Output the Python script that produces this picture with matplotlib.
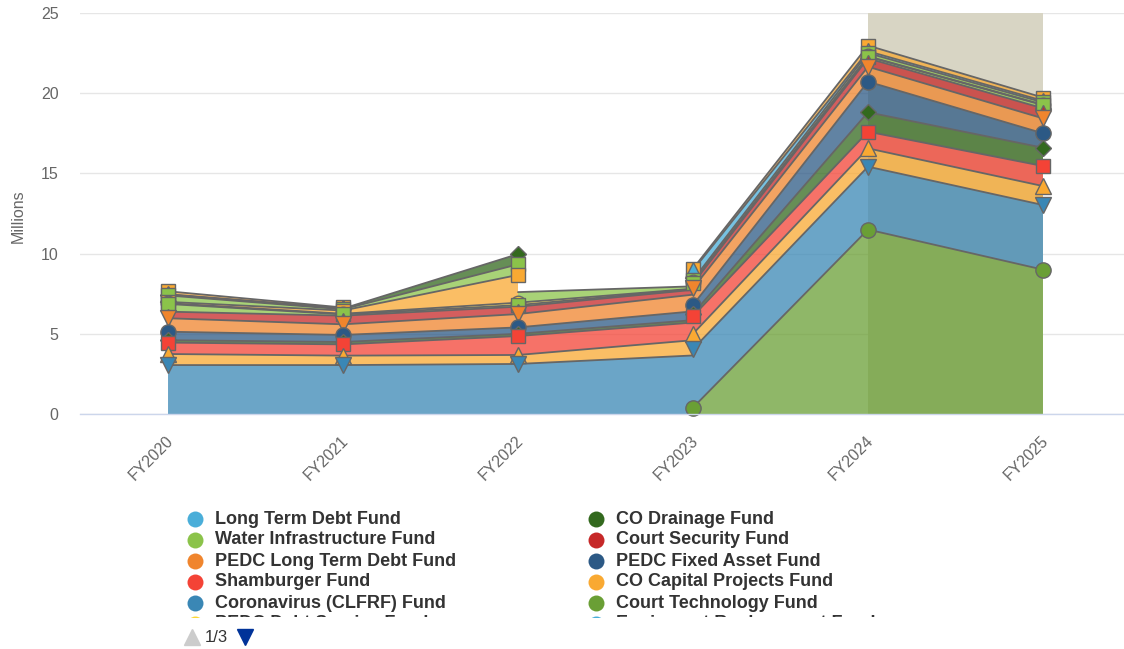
import numpy as np
import matplotlib
matplotlib.use('Agg')
import matplotlib.pyplot as plt
from matplotlib.patches import Polygon, Rectangle
from matplotlib.lines import Line2D

plt.rcParams['font.family'] = ['Liberation Sans', 'DejaVu Sans']

nan = np.nan
years = ['FY2020', 'FY2021', 'FY2022', 'FY2023', 'FY2024', 'FY2025']

# Stacked series, listed from bottom of the stack to the top (values in millions)
court_technology = [nan, nan, nan, 0.40, 11.50, 9.00]
coronavirus = [3.05, 3.05, 3.12, 3.65, 3.92, 4.03]
capital_projects_b = [0.69, 0.59, 0.56, 0.95, 1.14, 1.18]
shamburger = [0.71, 0.70, 1.18, 1.10, 1.04, 1.25]
co_drainage_a = [0.15, 0.15, 0.14, 0.15, 1.21, 1.14]
pedc_fixed_asset = [0.53, 0.44, 0.40, 0.55, 1.91, 0.90]
pedc_long_term_debt = [0.84, 0.66, 0.83, 1.04, 0.93, 0.93]
court_security = [0.41, 0.54, 0.46, 0.30, 0.52, 0.63]
water_a = [0.48, 0.08, 0.10, 0.05, 0.11, 0.20]
pedc_debt_service = [0.05, 0.04, 0.15, 0.02, 0.02, 0.02]
capital_projects_a = [0.08, 0.20, 1.73, nan, nan, nan]
water_b = [0.40, 0.08, 0.66, 0.15, 0.20, 0.15]
co_drainage_b = [0.05, 0.04, 0.64, nan, nan, nan]
equipment_replacement = [0.03, 0.02, nan, 0.60, 0.12, 0.10]
other_funds = [0.18, 0.05, nan, 0.10, 0.35, 0.20]

series_values = [court_technology, coronavirus, capital_projects_b, shamburger,
                 co_drainage_a, pedc_fixed_asset, pedc_long_term_debt, court_security,
                 water_a, pedc_debt_service, capital_projects_a, water_b,
                 co_drainage_b, equipment_replacement, other_funds]

legend_labels = ['Long Term Debt Fund', 'CO Drainage Fund',
                 'Water Infrastructure Fund', 'Court Security Fund',
                 'PEDC Long Term Debt Fund', 'PEDC Fixed Asset Fund',
                 'Shamburger Fund', 'CO Capital Projects Fund',
                 'Coronavirus (CLFRF) Fund', 'Court Technology Fund',
                 'PEDC Debt Service Fund', 'Equipment Replacement Fund']
pager_text = '1/3'

# ---- styles ----
C_LTD = '#4aaed9'; C_DRAIN = '#33691e'; C_WATER = '#8bc34a'; C_SEC = '#c62828'
C_PLTD = '#f0852d'; C_PFA = '#2c5985'; C_SHAM = '#f44336'; C_CAP = '#f9a932'
C_COV = '#3a87b5'; C_TECH = '#6a9f35'; C_DEBT = '#fdd835'
legend_colors = [C_LTD, C_DRAIN, C_WATER, C_SEC, C_PLTD, C_PFA, C_SHAM, C_CAP,
                 C_COV, C_TECH, C_DEBT, C_LTD]

series_colors = [C_TECH, C_COV, C_CAP, C_SHAM, C_DRAIN, C_PFA, C_PLTD, C_SEC,
                 C_WATER, C_DEBT, C_CAP, C_WATER, C_DRAIN, C_LTD, C_CAP]
series_markers = ['o', 'v', '^', 's', 'D', 'o', 'v', '^', 's', 'o', 's', 's', 'D', '^', 's']
series_msize = [11, 11.5, 11.5, 10, 8, 11, 11.5, 4.5, 10, 10.5, 10, 10, 8, 11, 10]

W, H = 1124, 649
fig = plt.figure(figsize=(W / 100, H / 100), dpi=100)
ax = fig.add_axes([80 / W, (H - 414) / H, (W - 80) / W, 401 / H])
ax.set_xlim(-0.503, 5.463)
ax.set_ylim(0, 25)

# grid & band
ax.set_yticks([0, 5, 10, 15, 20, 25])
ax.yaxis.grid(True, color='#e6e6e6', lw=1, zorder=0.5)
ax.set_axisbelow(True)
ax.axvspan(4, 5, color='#d8d5c4', zorder=1, lw=0)

for sp in ['top', 'right', 'left']:
    ax.spines[sp].set_visible(False)
ax.spines['bottom'].set_color('#ccd6eb')
ax.spines['bottom'].set_linewidth(1)
ax.spines['bottom'].set_zorder(6)

ax.tick_params(axis='y', length=0, pad=15.5, labelsize=11.5, labelcolor='#666666')
ax.set_xticks(range(len(years)))
ax.set_xticklabels([])
ax.tick_params(axis='x', length=0)
for i, yr in enumerate(years):
    ax.annotate(yr, xy=(i, 0), xycoords=('data', 'axes fraction'),
                xytext=(3.0 * 0.72, -24 * 0.72), textcoords='offset points',
                rotation=45, ha='right', va='center', rotation_mode='anchor',
                fontsize=11.5, color='#666666', annotation_clip=False)

fig.text(18 / W, 1 - 216 / H, 'Millions', rotation=90, ha='center', va='center',
         color='#666666', fontsize=11.5)

# ---- stacked areas (Highcharts-like cliffs for nulls) ----
V = np.array(series_values, dtype=float)
S, X = V.shape
valid = ~np.isnan(V)
Vz = np.where(valid, V, 0.0)
full_top = np.cumsum(Vz, axis=0)

for s in range(S):
    segs = []
    for i in range(X - 1):
        if valid[s, i] and valid[s, i + 1]:
            both = valid[:s, i] & valid[:s, i + 1]
            bl = Vz[:s, i][both].sum()
            br = Vz[:s, i + 1][both].sum()
            segs.append((i, bl, br, bl + V[s, i], br + V[s, i + 1]))
    runs = []
    for seg in segs:
        if runs and runs[-1][-1][0] == seg[0] - 1:
            runs[-1].append(seg)
        else:
            runs.append([seg])
    zl = 3 + (S - s) * 0.01
    for run in runs:
        top, bot = [], []
        for (i, bl, br, tl, tr) in run:
            top += [(i, tl), (i + 1, tr)]
            bot += [(i, bl), (i + 1, br)]
        poly = top + bot[::-1]
        ax.add_patch(Polygon(poly, closed=True, facecolor=series_colors[s],
                             alpha=0.75, edgecolor='none', zorder=2))
        # line along the top, broken at vertical cliffs
        chain = [top[0]]
        for k in range(1, len(top)):
            p = top[k]
            if abs(p[0] - chain[-1][0]) < 1e-9:
                if abs(p[1] - chain[-1][1]) > 1e-9:
                    xs, ys = zip(*chain)
                    ax.plot(xs, ys, color='#666666', lw=1.3, zorder=zl,
                            solid_joinstyle='round', solid_capstyle='round')
                    chain = [p]
                continue
            chain.append(p)
        xs, ys = zip(*chain)
        ax.plot(xs, ys, color='#666666', lw=1.3, zorder=zl,
                solid_joinstyle='round', solid_capstyle='round')

# markers: upper layers first so lower layers sit on top
for s in reversed(range(S)):
    for i in range(X):
        if valid[s, i]:
            ax.plot(i, full_top[s, i], marker=series_markers[s], ms=series_msize[s],
                    mfc=series_colors[s], mec='#666666', mew=1.0, ls='none',
                    zorder=5, clip_on=False)

# ---- legend (paged; last row cut off by the legend box) ----
ov = fig.add_axes([0, 0, 1, 1], facecolor='none')
ov.set_xlim(0, W)
ov.set_ylim(H, 0)
ov.axis('off')
clip = Rectangle((0, 0), W, 617, transform=ov.transData, visible=False)
ov.add_patch(clip)
col_sym = [195, 596]
col_txt = [215, 616]
for k, (lab, col) in enumerate(zip(legend_labels, legend_colors)):
    r, c = divmod(k, 2)
    yy = 519 + 21 * r
    ln = Line2D([col_sym[c]], [yy], marker='o', ms=11.5, mfc=col, mec=col, mew=0,
                ls='none')
    ov.add_line(ln)
    ln.set_clip_path(clip)
    ln.set_clip_on(True)
    t = ov.text(col_txt[c], yy, lab, fontsize=13, fontweight='bold', color='#333333',
                ha='left', va='center')
    t.set_clip_path(clip)
    t.set_clip_on(True)

ov.plot([192], [637], marker='^', ms=12, mfc='#cccccc', mec='#cccccc', ls='none')
ov.text(205, 637, pager_text, fontsize=12, color='#333333', ha='left', va='center')
ov.plot([245], [637], marker='v', ms=12, mfc='#003399', mec='#003399', ls='none')

fig.savefig('out.png', dpi=100)
